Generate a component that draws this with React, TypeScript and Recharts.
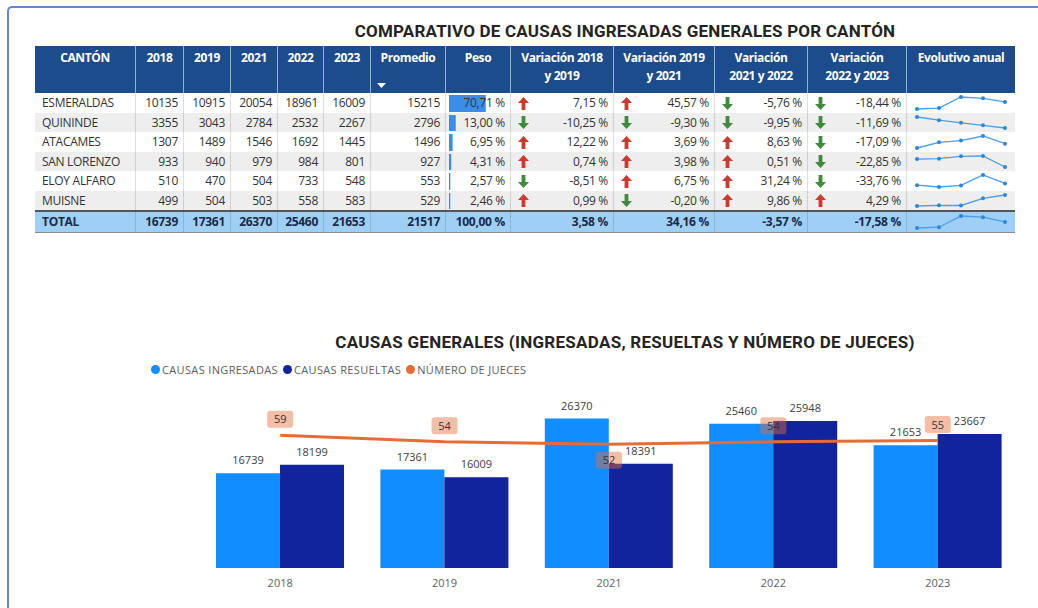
import React from 'react';
import { ComposedChart, Bar, Line, XAxis, YAxis, LabelList, LineChart, BarChart } from 'recharts';

// ---------- Table data ----------
const cantones = ['ESMERALDAS', 'QUININDE', 'ATACAMES', 'SAN LORENZO', 'ELOY ALFARO', 'MUISNE'];
const y2018 = [10135, 3355, 1307, 933, 510, 499];
const y2019 = [10915, 3043, 1489, 940, 470, 504];
const y2021 = [20054, 2784, 1546, 979, 504, 503];
const y2022 = [18961, 2532, 1692, 984, 733, 558];
const y2023 = [16009, 2267, 1445, 801, 548, 583];
const promedio = [15215, 2796, 1496, 927, 553, 529];
const peso = [70.71, 13.0, 6.95, 4.31, 2.57, 2.46];
const var1819 = [7.15, -10.25, 12.22, 0.74, -8.51, 0.99];
const var1921 = [45.57, -9.3, 3.69, 3.98, 6.75, -0.2];
const var2122 = [-5.76, -9.95, 8.63, 0.51, 31.24, 9.86];
const var2223 = [-18.44, -11.69, -17.09, -22.85, -33.76, 4.29];
const totalYears = [16739, 17361, 26370, 25460, 21653];
const totalPromedio = 21517;
const totalPeso = 100;
const totalVars = [3.58, 34.16, -3.57, -17.58];
const headers = ['CANTÓN', '2018', '2019', '2021', '2022', '2023', 'Promedio', 'Peso', 'Variación 2018|y 2019', 'Variación 2019|y 2021', 'Variación|2021 y 2022', 'Variación|2022 y 2023', 'Evolutivo anual'];

// ---------- Chart data ----------
const years = ['2018', '2019', '2021', '2022', '2023'];
const ingresadas = [16739, 17361, 26370, 25460, 21653];
const resueltas = [18199, 16009, 18391, 25948, 23667];
const jueces = [59, 54, 52, 54, 55];

const chartData = years.map((y, i) => ({ year: y, ingresadas: ingresadas[i], resueltas: resueltas[i], jueces: jueces[i] }));
const minJueces = Math.min(...jueces);

const FONT = '"Open Sans", "Noto Sans", sans-serif';
const TITLE_FONT = 'Roboto, "Noto Sans", sans-serif';
const X = [35, 135, 183, 230, 277, 323, 370, 445, 510, 613, 714, 807, 906, 1015];
const HEAD_TOP = 46;
const HEAD_BOTTOM = 93;
const ROW_H = 19.5;
const ROWS_END = 210;
const TOTAL_TOP = 212;
const TOTAL_BOTTOM = 232;

const fmtPct = (v: number) => v.toFixed(2).replace('.', ',') + ' %';

function Arrow({ up }: { up: boolean }) {
  return (
    <svg width={11} height={13} viewBox="0 0 11 13" style={{ display: 'block' }}>
      <path
        d={up ? 'M5.5 0 L11 6 L7.4 6 L7.4 13 L3.6 13 L3.6 6 L0 6 Z' : 'M5.5 13 L11 7 L7.4 7 L7.4 0 L3.6 0 L3.6 7 L0 7 Z'}
        fill={up ? '#cc3a2e' : '#3f8a3c'}
      />
    </svg>
  );
}

function Spark({ values, w, h }: { values: number[]; w: number; h: number }) {
  const data = values.map((v, i) => ({ i: String(i), v }));
  return (
    <LineChart width={w} height={h} data={data} margin={{ top: 4, right: 10, bottom: 4, left: 11 }}>
      <XAxis dataKey="i" hide />
      <YAxis hide domain={['dataMin', 'dataMax']} />
      <Line dataKey="v" stroke="#4a9fe8" strokeWidth={1.3} dot={{ r: 2, fill: '#2a86df', stroke: '#2a86df', strokeWidth: 0 }} isAnimationActive={false} />
    </LineChart>
  );
}

function PesoBar({ v, w, h }: { v: number; w: number; h: number }) {
  return (
    <BarChart layout="vertical" width={w} height={h} data={[{ n: 'p', v }]} margin={{ top: 2, right: 9, bottom: 1, left: 4 }} barCategoryGap={0}>
      <XAxis type="number" domain={[0, 100]} hide allowDataOverflow />
      <YAxis type="category" dataKey="n" hide />
      <Bar dataKey="v" fill="#3a8ee6" isAnimationActive={false} />
    </BarChart>
  );
}

function JLabel(props: any) {
  const { x, y, value } = props;
  const below = value === minJueces;
  const cy = below ? y + 16 : y - 16;
  return (
    <g>
      <rect x={x - 13} y={cy - 8.5} width={26} height={17} rx={3} fill="#E66C37" fillOpacity={0.45} />
      <text x={x} y={cy + 4} textAnchor="middle" fontSize={11} fill="#333" fontFamily={FONT}>{value}</text>
    </g>
  );
}

export default function App() {
  const cells: React.ReactNode[] = [];
  const colW = (c: number) => X[c + 1] - X[c];

  // header
  headers.forEach((h, c) => {
    const lines = h.split('|');
    cells.push(
      <div key={'h' + c} style={{ position: 'absolute', left: X[c], top: HEAD_TOP, width: colW(c), height: HEAD_BOTTOM - HEAD_TOP, background: '#1d4c8c', color: '#fff', fontWeight: 700, fontSize: 12, letterSpacing: -0.4, textAlign: 'center', lineHeight: '18px', paddingTop: 3, boxSizing: 'border-box', borderLeft: c > 0 ? '1px solid rgba(255,255,255,0.55)' : 'none' }}>
        {lines.map((l, k) => <div key={k}>{l}</div>)}
        {c === 6 && (
          <svg width={9} height={6} style={{ position: 'absolute', left: 6, top: 37 }}>
            <path d="M0 0 L9 0 L4.5 5 Z" fill="#fff" />
          </svg>
        )}
      </div>
    );
  });

  const rowBlock = (key: string, top: number, h: number, bg: string, bold: boolean, name: string, vals: number[], prom: number, p: number, vars: number[], spark: number[], showBar: boolean) => {
    const color = bold ? '#1b2a47' : '#333';
    const base: React.CSSProperties = { position: 'absolute', top, height: h, lineHeight: h + 'px', fontSize: 12, color, fontWeight: bold ? 700 : 400, whiteSpace: 'nowrap', letterSpacing: -0.3 };
    cells.push(<div key={key + 'bg'} style={{ position: 'absolute', left: X[0], top, width: X[13] - X[0], height: h, background: bg }} />);
    cells.push(<div key={key + 'n'} style={{ ...base, left: X[0] + 7 }}>{name}</div>);
    vals.forEach((v, k) => {
      cells.push(<div key={key + 'v' + k} style={{ ...base, left: X[k + 1], width: colW(k + 1) - 5, textAlign: 'right' }}>{v}</div>);
    });
    cells.push(<div key={key + 'pr'} style={{ ...base, left: X[6], width: colW(6) - 5, textAlign: 'right' }}>{prom}</div>);
    if (showBar) {
      cells.push(<div key={key + 'pb'} style={{ position: 'absolute', left: X[7], top }}><PesoBar v={p} w={colW(7)} h={h} /></div>);
    }
    cells.push(<div key={key + 'pt'} style={{ ...base, left: X[7], width: colW(7) - 5, textAlign: 'right' }}>{fmtPct(p)}</div>);
    vars.forEach((v, k) => {
      const c = 8 + k;
      if (!bold) {
        cells.push(<div key={key + 'a' + k} style={{ position: 'absolute', left: X[c] + 8, top: top + (h - 13) / 2 }}><Arrow up={v >= 0} /></div>);
      }
      cells.push(<div key={key + 'va' + k} style={{ ...base, left: X[c], width: colW(c) - 5, textAlign: 'right' }}>{fmtPct(v)}</div>);
    });
    cells.push(<div key={key + 'sp'} style={{ position: 'absolute', left: X[12], top }}><Spark values={spark} w={colW(12)} h={h} /></div>);
  };

  cantones.forEach((name, i) => {
    const top = Math.round(HEAD_BOTTOM + i * ROW_H);
    const next = i === cantones.length - 1 ? ROWS_END : Math.round(HEAD_BOTTOM + (i + 1) * ROW_H);
    const vals = [y2018[i], y2019[i], y2021[i], y2022[i], y2023[i]];
    rowBlock('r' + i, top, next - top, i % 2 === 1 ? '#eeeeee' : '#ffffff', false, name, vals, promedio[i], peso[i], [var1819[i], var1921[i], var2122[i], var2223[i]], vals, true);
  });
  rowBlock('tot', TOTAL_TOP, TOTAL_BOTTOM - TOTAL_TOP, '#9ecff4', true, 'TOTAL', totalYears, totalPromedio, totalPeso, totalVars, totalYears, false);

  // grid lines
  const grid: React.ReactNode[] = [];
  for (let c = 1; c < 13; c++) {
    grid.push(<div key={'g' + c} style={{ position: 'absolute', left: X[c], top: HEAD_BOTTOM, width: 1, height: TOTAL_BOTTOM - HEAD_BOTTOM, background: 'rgba(0,0,0,0.13)' }} />);
  }
  grid.push(<div key="sep" style={{ position: 'absolute', left: X[0], top: ROWS_END, width: X[13] - X[0], height: TOTAL_TOP - ROWS_END, background: '#555' }} />);
  grid.push(<div key="bot" style={{ position: 'absolute', left: X[0], top: TOTAL_BOTTOM, width: X[13] - X[0], height: 1, background: '#8a8a8a' }} />);

  const legendItems = [
    { label: 'CAUSAS INGRESADAS', color: '#118DFF' },
    { label: 'CAUSAS RESUELTAS', color: '#12239E' },
    { label: 'NÚMERO DE JUECES', color: '#E66C37' },
  ];

  return (
    <div style={{ position: 'absolute', left: 0, top: 0, width: 1038, height: 608, background: '#fff', overflow: 'hidden', fontFamily: FONT }}>
      <div style={{ position: 'absolute', left: 7, top: 6, width: 1030, height: 640, borderLeft: '2px solid #6787d6', borderTop: '2px solid #6787d6', borderTopLeftRadius: 5 }} />
      <div style={{ position: 'absolute', left: 0, width: 1250, top: 21, textAlign: 'center', fontFamily: TITLE_FONT, fontWeight: 700, fontSize: 17, color: '#252423', letterSpacing: 0.2 }}>
        COMPARATIVO DE CAUSAS INGRESADAS GENERALES POR CANTÓN
      </div>
      {cells}
      {grid}
      <div style={{ position: 'absolute', left: 0, width: 1250, top: 332, textAlign: 'center', fontFamily: TITLE_FONT, fontWeight: 700, fontSize: 17, color: '#252423', letterSpacing: 0.28 }}>
        CAUSAS GENERALES (INGRESADAS, RESUELTAS Y NÚMERO DE JUECES)
      </div>
      <div style={{ position: 'absolute', left: 151, top: 362, display: 'flex', alignItems: 'center', fontSize: 11, color: '#605E5C', letterSpacing: 0.35, whiteSpace: 'nowrap' }}>
        {legendItems.map((it) => (
          <div key={it.label} style={{ display: 'flex', alignItems: 'center', marginRight: 5 }}>
            <span style={{ display: 'inline-block', width: 9, height: 9, borderRadius: '50%', background: it.color, marginRight: 2 }} />
            <span>{it.label}</span>
          </div>
        ))}
      </div>
      <div style={{ position: 'absolute', left: 0, top: 380 }}>
        <ComposedChart width={1038} height={220} data={chartData} margin={{ top: 18, right: 18, bottom: 2, left: 198 }} barCategoryGap={18} barGap={0}>
          <XAxis dataKey="year" axisLine={false} tickLine={false} tick={{ fill: '#605E5C', fontSize: 11, fontFamily: FONT, dy: 3 }} height={30} interval={0} />
          <YAxis yAxisId="l" hide domain={[0, 30000]} allowDataOverflow />
          <YAxis yAxisId="r" orientation="right" hide domain={[-44, 88]} allowDataOverflow />
          <Bar yAxisId="l" dataKey="ingresadas" fill="#118DFF" isAnimationActive={false}>
            <LabelList dataKey="ingresadas" position="top" offset={9} fill="#404040" fontSize={11} fontFamily={FONT} />
          </Bar>
          <Bar yAxisId="l" dataKey="resueltas" fill="#12239E" isAnimationActive={false}>
            <LabelList dataKey="resueltas" position="top" offset={9} fill="#404040" fontSize={11} fontFamily={FONT} />
          </Bar>
          <Line yAxisId="r" dataKey="jueces" stroke="#E66C37" strokeWidth={3} dot={false} isAnimationActive={false}>
            <LabelList dataKey="jueces" content={JLabel} />
          </Line>
        </ComposedChart>
      </div>
    </div>
  );
}
